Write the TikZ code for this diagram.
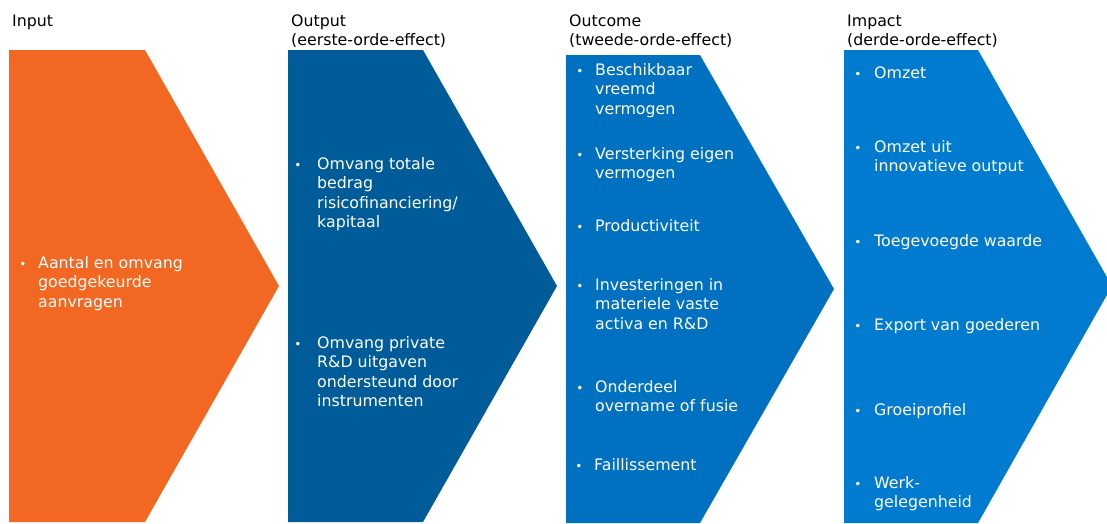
\documentclass[tikz,border=0pt]{standalone}
\usepackage{fontspec}
\setmainfont{DejaVu Sans}

\definecolor{inputorange}{HTML}{F26722}
\definecolor{outputblue}{HTML}{005C99}
\definecolor{outcomeblue}{HTML}{0070C0}
\definecolor{impactblue}{HTML}{007BD0}

% lines of a box, baseline at the first line
\newcommand{\boxlines}[1]{\begin{tabular}[t]{@{}l@{}}#1\end{tabular}}

\begin{document}
\begin{tikzpicture}[x=1pt,y=-1pt,
  head/.style={anchor=base west,inner sep=0pt,font=\fontsize{15.8}{19.5}\selectfont},
  item/.style={anchor=base west,inner sep=0pt,text=white,font=\fontsize{15.8}{19.5}\selectfont},
  dot/.style={anchor=base,inner sep=0pt,text=white,font=\fontsize{12}{12}\selectfont}]
\useasboundingbox (0,0) rectangle (1107,523);
\clip (0,0) rectangle (1107,523);
% chevrons
\fill[inputorange] (9,50) -- (145,50) -- (279,286) -- (145,522) -- (9,522) -- cycle;
\fill[outputblue] (288,50) -- (423,50) -- (557,286) -- (423,522) -- (288,522) -- cycle;
\fill[outcomeblue] (566,55) -- (700,55) -- (834,289) -- (700,523) -- (566,523) -- cycle;
\fill[impactblue] (844,50) -- (978,50) -- (1112,286) -- (978,523) -- (844,523) -- cycle;
% headers
\node[head] (input) at (12,26) {\boxlines{Input}};
\node[head] (output) at (291,26) {\boxlines{Output\\(eerste-orde-effect)}};
\node[head] (outcome) at (569,26) {\boxlines{Outcome\\(tweede-orde-effect)}};
\node[head] (impact) at (847,26) {\boxlines{Impact\\(derde-orde-effect)}};
% input
\node[item] (in1) at (38,268) {\boxlines{Aantal en omvang\\goedgekeurde\\aanvragen}};
\node[dot] (din1) at (23,268) {•};
% output
\node[item] (out1) at (317,169) {\boxlines{Omvang totale\\bedrag\\risicofinanciering/\\kapitaal}};
\node[dot] (dout1) at (298,169) {•};
\node[item] (out2) at (317,348) {\boxlines{Omvang private\\R\&D uitgaven\\ondersteund door\\instrumenten}};
\node[dot] (dout2) at (298,348) {•};
% outcome
\node[item] (oc1) at (595,75) {\boxlines{Beschikbaar\\vreemd\\vermogen}};
\node[dot] (doc1) at (580,75) {•};
\node[item] (oc2) at (595,159) {\boxlines{Versterking eigen\\vermogen}};
\node[dot] (doc2) at (580,159) {•};
\node[item] (oc3) at (595,231) {\boxlines{Productiviteit}};
\node[dot] (doc3) at (580,231) {•};
\node[item] (oc4) at (595,290) {\boxlines{Investeringen in\\materiele vaste\\activa en R\&D}};
\node[dot] (doc4) at (580,290) {•};
\node[item] (oc5) at (595,392) {\boxlines{Onderdeel\\overname of fusie}};
\node[dot] (doc5) at (580,392) {•};
\node[item] (oc6) at (594,470) {\boxlines{Faillissement}};
\node[dot] (doc6) at (579,470) {•};
% impact
\node[item] (im1) at (874,78) {\boxlines{Omzet}};
\node[dot] (dim1) at (858,78) {•};
\node[item] (im2) at (874,152) {\boxlines{Omzet uit\\innovatieve output}};
\node[dot] (dim2) at (858,152) {•};
\node[item] (im3) at (874,246) {\boxlines{Toegevoegde waarde}};
\node[dot] (dim3) at (858,246) {•};
\node[item] (im4) at (874,330) {\boxlines{Export van goederen}};
\node[dot] (dim4) at (858,330) {•};
\node[item] (im5) at (874,415) {\boxlines{Groeiprofiel}};
\node[dot] (dim5) at (858,415) {•};
\node[item] (im6) at (874,488) {\boxlines{Werk-\\gelegenheid}};
\node[dot] (dim6) at (858,488) {•};
\end{tikzpicture}
\end{document}
